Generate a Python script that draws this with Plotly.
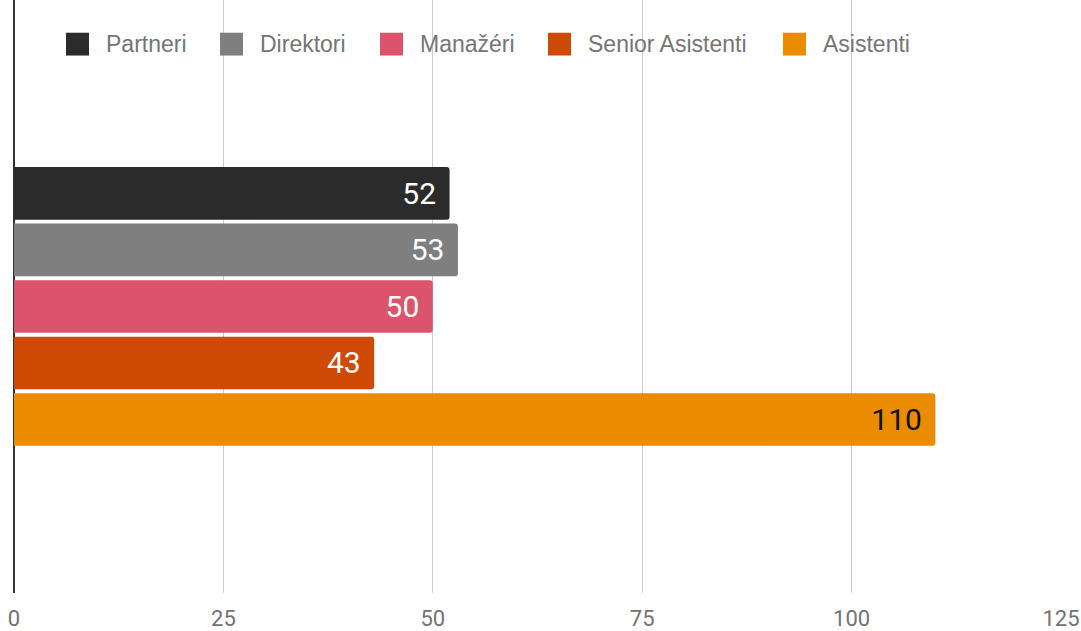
import plotly.graph_objects as go

series = ["Partneri", "Direktori", "Manažéri", "Senior Asistenti", "Asistenti"]
values = [52, 53, 50, 43, 110]
colors = ["#2b2b2b", "#7f7f7f", "#dc546b", "#cf4a04", "#eb8b00"]
label_colors = ["#ffffff", "#ffffff", "#ffffff", "#ffffff", "#111111"]
category = [0]
x_ticks = [0, 25, 50, 75, 100, 125]

W, H = 1081, 631
ML, MR, MT, MB = 14, 20, 0, 33
PW, PH = W - ML - MR, H - MT - MB

fig = go.Figure()
for name, v, c, lc in zip(series, values, colors, label_colors):
    fig.add_trace(go.Bar(
        name=name, x=[v], y=category, orientation="h",
        marker=dict(color=c, line=dict(width=0), cornerradius=3),
        text=[str(v)], texttemplate="%{text}\u00a0\u200a",
        textposition="inside", insidetextanchor="end",
        textfont=dict(color=lc, size=30, family="Roboto"),
        hoverinfo="skip", showlegend=False,
    ))

# custom legend (large swatches) in pixel-based paper coordinates
legend_swatch_px = [66, 220, 380, 548, 783]
sw = 23
sy0, sy1 = 33, 56
shapes, annos = [], []
for name, c, px in zip(series, colors, legend_swatch_px):
    x0 = (px - ML) / PW
    x1 = (px + sw - ML) / PW
    shapes.append(dict(type="rect", xref="paper", yref="paper",
                       x0=x0, x1=x1, y0=1 - (sy1 - MT) / PH, y1=1 - (sy0 - MT) / PH,
                       fillcolor=c, line=dict(width=0), layer="above"))
    annos.append(dict(text=name, xref="paper", yref="paper",
                      x=(px + sw + 15 - ML) / PW, y=1 - ((sy0 + sy1) / 2 - MT) / PH,
                      xanchor="left", yanchor="middle", showarrow=False,
                      font=dict(size=23, color="#757575", family="Liberation Sans")))

fig.update_layout(
    width=W, height=H,
    margin=dict(l=ML, r=MR, t=MT, b=MB),
    paper_bgcolor="white", plot_bgcolor="white",
    barmode="group", bargap=0.2, bargroupgap=0.07,
    font=dict(family="Roboto", color="#666666"),
    showlegend=False,
    shapes=shapes, annotations=annos,
    xaxis=dict(range=[0, 125], tickvals=x_ticks, showgrid=True, gridcolor="#cccccc",
               gridwidth=1, zeroline=True, zerolinecolor="#333333", zerolinewidth=1.5,
               tickfont=dict(size=22, color="#737373", family="Roboto"),
               ticklabelstandoff=10,
               ticks="", showline=False, fixedrange=True),
    yaxis=dict(range=[0.8112, -0.8674], showticklabels=False, showgrid=False,
               zeroline=False, showline=False, ticks="", fixedrange=True),
)

fig.write_html("out.html")
